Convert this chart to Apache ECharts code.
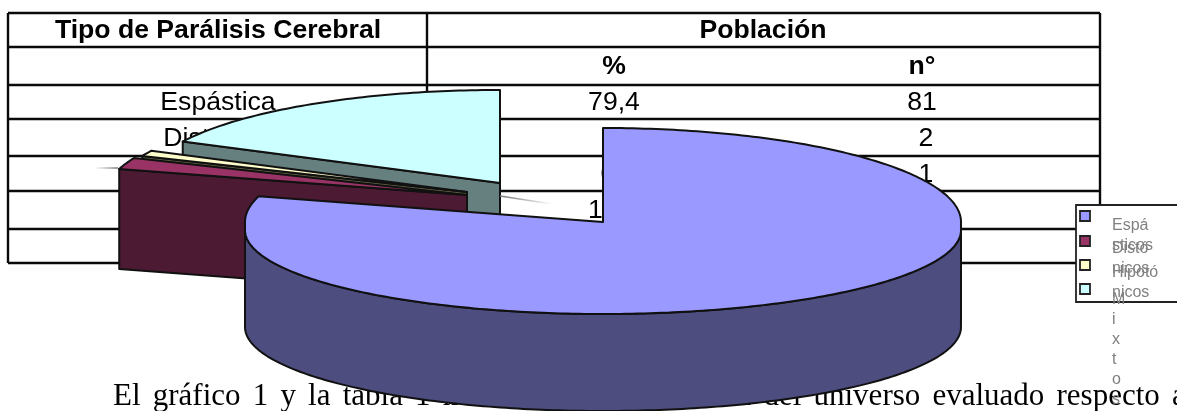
<!DOCTYPE html>
<html>
<head>
<meta charset="utf-8">
<style>html,body{margin:0;padding:0;background:#fff;overflow:hidden}#chart{width:1177px;height:411px}</style>
<script src="https://cdn.jsdelivr.net/npm/echarts@6/dist/echarts.min.js"></script>
</head>
<body>
<div id="chart"></div>
<script>
// Table contents
const headerType = 'Tipo de Parálisis Cerebral';
const headerPopulation = 'Población';
const subHeaders = ['%', 'n°'];
const rowLabels = ['Espástica', 'Distónica', 'Hipotónica', 'Mixta', 'Total'];
const rowPercents = ['79,4', '2', '0,9', '17,6', '100'];
const rowCounts = ['81', '2', '1', '18', '102'];

// Pie slices
const sliceNames = ['Espásticos', 'Distónicos', 'Hipotónicos', 'Mixtos'];
const sliceValues = [81, 2, 1, 18];
const legendLines = ['Espá\nsticos', 'Distó\nnicos', 'Hipotó\nnicos', 'M\ni\nx\nt\no\ns'];
const paragraphWords = 'El gráfico 1 y la tabla 1 muestran la distribución del universo evaluado respecto a'.split(' ');

// Pie projection and the way each slice is pulled out of the centre.
// The far half of the rim and the near half have different perspective.
const topColors = ['#9999FF', '#993366', '#FFFFCC', '#CCFFFF'];
const sideColors = ['#4D4D80', '#4D1A33', '#5E5E40', '#668080'];
const pieCenter = [603, 222];
const pieRadius = [358, 94];
const nearRim = { drop: 8, ry: 84 };
const sliceDepth = [97, 100, 97, 97];
const sliceShift = [[0, 0], [-136, -27], [-136, -30], [-103, -39]];
const sliceGrow = [1, 1.01, 0.985, 0.99];
const paintOrder = [4, 3, 2, 1];

const total = sliceValues.reduce((a, b) => a + b, 0);
const startShares = [];
sliceValues.reduce((acc, v, i) => { startShares[i] = acc / total; return acc + v; }, 0);

function rim(cx, cy, rx, ry, a) {
  const c = Math.cos(a);
  const y = c >= 0 ? cy - ry * c : cy + nearRim.drop - nearRim.ry * c;
  return [cx + rx * Math.sin(a), y];
}

function renderSlice(params, api) {
  const i = params.dataIndex;
  const value = api.value(0);
  const a0 = startShares[i] * Math.PI * 2;
  const a1 = a0 + value / total * Math.PI * 2;
  const g = sliceGrow[i];
  const cx = pieCenter[0] + sliceShift[i][0];
  const cy = pieCenter[1] + sliceShift[i][1];
  const rx = pieRadius[0] * g;
  const ry = pieRadius[1] * g;
  const d = sliceDepth[i];
  const steps = Math.max(3, Math.ceil((a1 - a0) * 60));
  const top = [[cx, cy]];
  for (let k = 0; k <= steps; k++) top.push(rim(cx, cy, rx, ry, a0 + (a1 - a0) * k / steps));

  const base = paintOrder[i] * 10;
  const line = { stroke: '#111', lineWidth: 2, lineJoin: 'round' };
  const children = [];
  // The curved wall only shows along the near half of the rim
  const lo = Math.max(a0, Math.PI / 2), hi = Math.min(a1, Math.PI * 1.5);
  if (hi > lo) {
    const wall = [];
    const n = Math.ceil((hi - lo) * 60);
    for (let k = 0; k <= n; k++) wall.push(rim(cx, cy, rx, ry, lo + (hi - lo) * k / n));
    for (let k = n; k >= 0; k--) wall.push(rim(cx, cy + d, rx, ry, lo + (hi - lo) * k / n));
    children.push({ type: 'polygon', z2: base, shape: { points: wall }, style: Object.assign({ fill: sideColors[i] }, line) });
  }
  // Flat face along the leading cut, seen when the slice opens toward the viewer
  if (i > 0) {
    const e = rim(cx, cy, rx, ry, a0);
    children.push({
      type: 'polygon', z2: base + 1,
      shape: { points: [[cx, cy], e, [e[0], e[1] + d], [cx, cy + d]] },
      style: Object.assign({ fill: sideColors[i] }, line)
    });
  }
  children.push({ type: 'polygon', z2: base + 2, shape: { points: top }, style: Object.assign({ fill: topColors[i] }, line) });
  return { type: 'group', children };
}

// Table grid
const rowLines = [13, 47, 85, 119, 156, 191, 229, 263];
const colLeft = 8, colSplit = 427, colRight = 1100;
const colType = 218, colPct = 614, colN = 922, colPop = 763;
const tableFont = '26.6px "Liberation Sans", Arial, sans-serif';
const tableFontBold = 'bold 26.6px "Liberation Sans", Arial, sans-serif';
const pctNudge = [0, 0, 5, 0, 0];

const graphics = [];
function hline(y, x0, x1) {
  graphics.push({ type: 'line', z: 1, shape: { x1: x0, y1: y, x2: x1, y2: y }, style: { stroke: '#0a0a0a', lineWidth: 2.4 } });
}
function vline(x, y0, y1) {
  graphics.push({ type: 'line', z: 1, shape: { x1: x, y1: y0, x2: x, y2: y1 }, style: { stroke: '#0a0a0a', lineWidth: 2.4 } });
}
function cell(text, x, y, font) {
  graphics.push({ type: 'text', z: 1, x, y, style: { text, font, fill: '#000', align: 'center', verticalAlign: 'middle' } });
}
rowLines.forEach(y => hline(y, colLeft, colRight));
vline(colLeft, 13, 263);
vline(colSplit, 13, 263);
vline(colRight, 13, 263);
cell(headerType, colType, 31, tableFontBold);
cell(headerPopulation, colPop, 31, tableFontBold);
cell(subHeaders[0], colPct, 67, tableFontBold);
cell(subHeaders[1], colN, 67, tableFontBold);
rowLabels.forEach((t, r) => {
  const y = (rowLines[r + 2] + rowLines[r + 3]) / 2 + 1;
  cell(t, colType, y, tableFont);
  cell(rowPercents[r], colPct + pctNudge[r], y, tableFont);
  cell(rowCounts[r], colN + (r ? 4 : 0), y, tableFont);
});

// Justified paragraph running under the chart: the word gap is stretched
// so the last word lands at the end of the line
const paraFont = '31px "Liberation Serif", "Times New Roman", serif';
const paraLeft = 113, paraLastWordX = 1172, paraY = 397;
const measurer = document.createElement('canvas').getContext('2d');
measurer.font = paraFont;
const wordWidths = paragraphWords.map(w => measurer.measureText(w).width);
const paraGap = (paraLastWordX - paraLeft - wordWidths.slice(0, -1).reduce((a, b) => a + b, 0)) / (paragraphWords.length - 1);
let paraX = paraLeft;
paragraphWords.forEach((w, k) => {
  graphics.push({ type: 'text', z: 1, x: paraX, y: paraY, style: { text: w, font: paraFont, fill: '#000', align: 'left', verticalAlign: 'middle' } });
  paraX += wordWidths[k] + paraGap;
});

// Faint stray strokes beside the pulled-out slices, fading out
[[118, 168, 95, 168], [500, 196, 552, 204]].forEach(([x1, y1, x2, y2]) => {
  graphics.push({
    type: 'line', z: 3, shape: { x1, y1, x2, y2 },
    style: {
      lineWidth: 1.5,
      stroke: new echarts.graphic.LinearGradient(x1, y1, x2, y2, [
        { offset: 0, color: '#777' }, { offset: 1, color: '#fff' }
      ], true)
    }
  });
});

// Legend box, running off the right edge
graphics.push({ type: 'rect', z: 5, shape: { x: 1076, y: 205, width: 120, height: 97 }, style: { fill: '#fff', stroke: '#222', lineWidth: 1.8 } });
const swatchY = [216, 241, 265, 289];
const legendTextY = [216, 239, 263, 290];
sliceNames.forEach((name, i) => {
  graphics.push({ type: 'rect', z: 6, shape: { x: 1080, y: swatchY[i] - 5, width: 10, height: 10 }, style: { fill: topColors[i], stroke: '#222', lineWidth: 1.8 } });
  graphics.push({
    type: 'text', z: 6, x: 1112, y: legendTextY[i],
    style: { text: legendLines[i], font: '16px "Liberation Sans", Arial, sans-serif', lineHeight: 20, fill: '#808080', align: 'left', verticalAlign: 'top' }
  });
});

const chart = echarts.init(document.getElementById('chart'), null, { renderer: 'canvas' });
chart.setOption({
  animation: false,
  backgroundColor: '#fff',
  graphic: { elements: graphics },
  series: [{
    type: 'custom',
    coordinateSystem: 'none',
    silent: true,
    clip: false,
    z: 2,
    data: sliceValues,
    renderItem: renderSlice
  }]
});
</script>
</body>
</html>
